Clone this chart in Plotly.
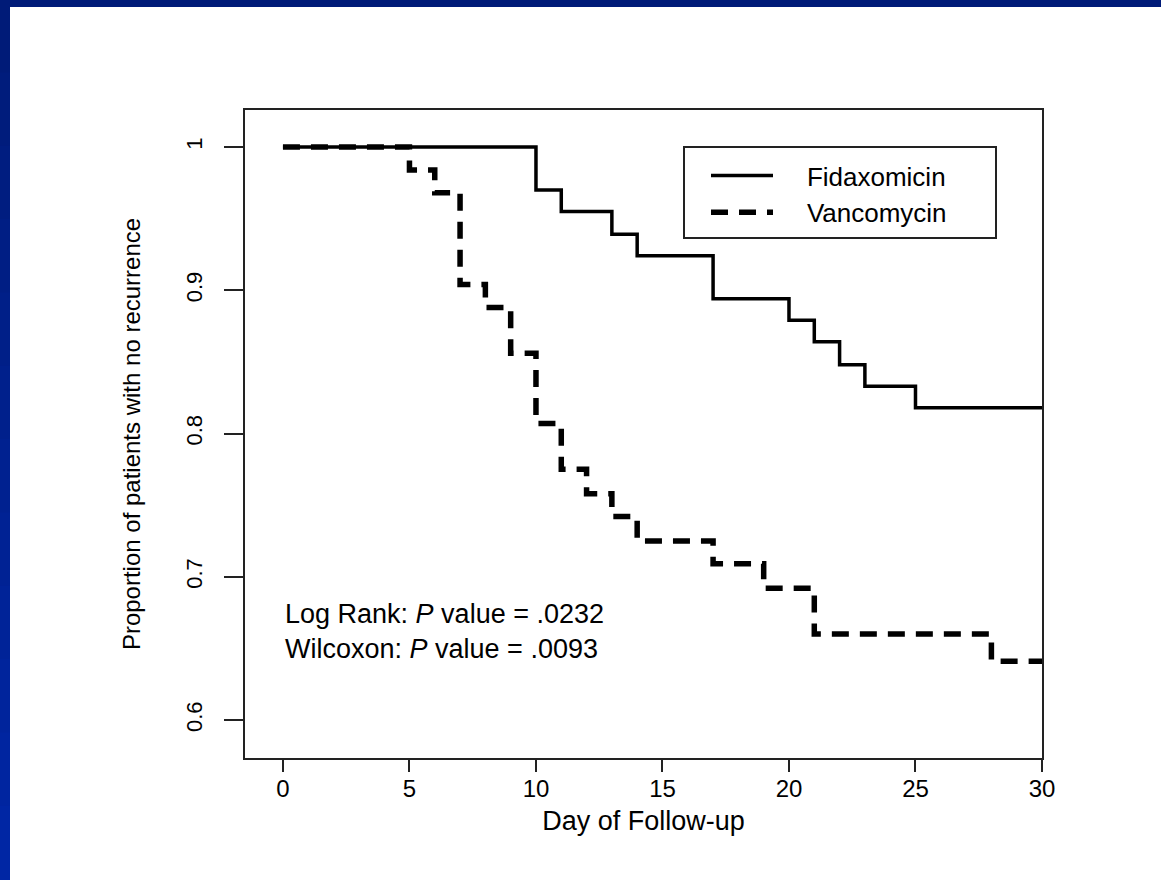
import plotly.graph_objects as go

# ---- data ----
fidax_days = [0, 10, 11, 13, 14, 17, 20, 21, 22, 23, 25, 30]
fidax_surv = [1.0, 0.970, 0.955, 0.939, 0.924, 0.894, 0.879, 0.864, 0.848, 0.833, 0.818, 0.818]

vanco_days = [0, 5, 6, 7, 8, 9, 10, 11, 12, 13, 14, 17, 19, 21, 28, 30]
vanco_surv = [1.0, 0.984, 0.968, 0.904, 0.888, 0.856, 0.807, 0.775, 0.758, 0.742, 0.725, 0.709, 0.692, 0.660, 0.641, 0.641]

x_ticks = [0, 5, 10, 15, 20, 25, 30]
y_ticks = [0.6, 0.7, 0.8, 0.9, 1.0]
y_tick_labels = ["0.6", "0.7", "0.8", "0.9", "1"]

series_names = ["Fidaxomicin", "Vancomycin"]
x_title = "Day of Follow-up"
y_title = "Proportion of patients with no recurrence"
stats_lines = ["Log Rank: <i>P</i> value = .0232", "Wilcoxon: <i>P</i> value = .0093"]

FONT = "Liberation Sans, Arial, sans-serif"
W, H = 1161, 880
L, R, T, B = 245, 1042, 110, 758


def px(xp):
    return (xp - L) / (R - L)


def py(yp):
    return (B - yp) / (B - T)


NB = "\u00a0" * 4

fig = go.Figure()
fig.add_trace(go.Scatter(
    x=fidax_days, y=fidax_surv, mode="lines", line_shape="hv",
    name=NB + series_names[0], line=dict(color="black", width=3.5)))
fig.add_trace(go.Scatter(
    x=vanco_days, y=vanco_surv, mode="lines", line_shape="hv",
    name=NB + series_names[1], line=dict(color="black", width=5.5, dash="17px,11px")))

fig.add_annotation(
    x=0, y=0.662, xref="x", yref="y", xanchor="left", yanchor="middle",
    text="<br>".join(stats_lines), showarrow=False, align="left",
    font=dict(family=FONT, size=27, color="black"))

# slide border (blue) and legend frame
shapes = [dict(type="rect", xref="paper", yref="paper", x0=px(-2), x1=px(W + 2),
               y0=py(7), y1=py(-2), fillcolor="#001b78", line_width=0, layer="below")]
cols = ["#001b78", "#001c7c", "#001d80", "#001e84", "#001f88", "#00208c",
        "#002190", "#002294", "#002398", "#00249c", "#0025a0", "#0026a4"]
n = len(cols)
for i in range(n):
    shapes.append(dict(type="rect", xref="paper", yref="paper",
                       x0=px(-2), x1=px(10),
                       y0=py(H * (i + 1) / n + 1), y1=py(H * i / n - 1),
                       fillcolor=cols[i], line_width=0, layer="below"))
shapes.append(dict(type="rect", xref="paper", yref="paper",
                   x0=px(684), x1=px(996), y0=py(238), y1=py(147),
                   fillcolor="white", line=dict(color="#222", width=2), layer="below"))

fig.update_layout(
    width=W, height=H,
    margin=dict(l=L, r=W - R, t=T, b=H - B, autoexpand=False),
    paper_bgcolor="white", plot_bgcolor="rgba(0,0,0,0)",
    font=dict(family=FONT, color="black"),
    shapes=shapes,
    showlegend=True,
    legend=dict(x=px(706), y=py(152), xanchor="left", yanchor="top",
                bgcolor="rgba(0,0,0,0)", borderwidth=0,
                font=dict(family=FONT, size=26, color="black"),
                itemwidth=62, tracegroupgap=0),
    xaxis=dict(range=[-1.5, 30], tickvals=x_ticks, ticks="outside", ticklen=12, tickwidth=2,
               tickcolor="#222", showline=True, linecolor="#222", linewidth=2, mirror=True,
               showgrid=False, zeroline=False, automargin=False, ticklabelstandoff=-4,
               tickfont=dict(family=FONT, size=24, color="black"),
               title=dict(text=x_title, font=dict(family=FONT, size=27, color="black"), standoff=10)),
    yaxis=dict(range=[0.5735, 1.0258], tickvals=y_ticks, ticktext=y_tick_labels, ticks="outside",
               ticklen=19, tickwidth=2, tickcolor="#222", showline=True, linecolor="#222",
               linewidth=2, mirror=True, showgrid=False, zeroline=False, automargin=False,
               tickangle=-90, ticklabelstandoff=13,
               tickfont=dict(family=FONT, size=22, color="black"),
               title=dict(text=y_title, font=dict(family=FONT, size=24, color="black"), standoff=35)),
)

fig.write_html("out.html", config={"displayModeBar": False},
               post_script="document.body.style.margin='0';")
